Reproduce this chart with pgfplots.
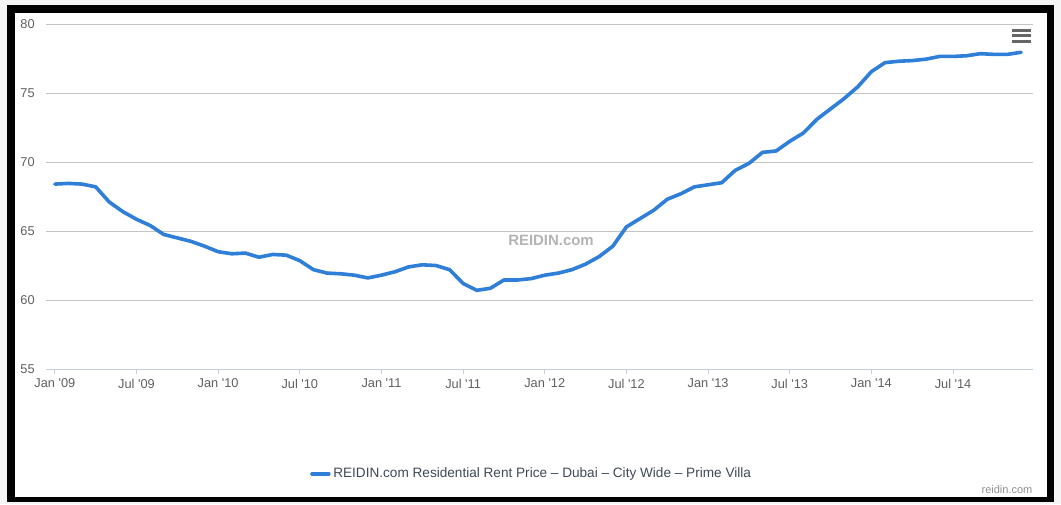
\documentclass[border=0pt]{standalone}
\usepackage{pgfplots}
\pgfplotsset{compat=1.18}
\usepackage{fontspec}
\setmainfont{Liberation Sans}
\definecolor{serie}{HTML}{2F7ED8}
\definecolor{gridc}{HTML}{C4C4C4}
\definecolor{axisc}{HTML}{C0D0E0}
\definecolor{tickc}{HTML}{606060}
\definecolor{legc}{HTML}{3E4A57}
\definecolor{wm}{HTML}{B4B4B4}
\definecolor{credit}{HTML}{909090}
\definecolor{menu}{HTML}{666666}
\begin{document}
\begin{tikzpicture}
\begin{scope}[x=0.75pt,y=-0.75pt]
\fill[gray!8] (0,0) rectangle (1061,504);
\fill[black] (7,5) rectangle (1054,502);
\fill[white] (15,13) rectangle (1047,497);
\coordinate (A) at (46,369);
\node[font=\bfseries\fontsize{11.2pt}{13pt}\selectfont, text=wm] at (551,240) {REIDIN.com};
\node[font=\fontsize{8.25pt}{10pt}\selectfont, text=credit] at (1007,490) {reidin.com};
\foreach \yy in {30,35.5,41} \draw[line width=2.25pt, color=menu] (1012,\yy) -- (1031,\yy);
\end{scope}
\begin{axis}[at={(A)}, anchor=south west, scale only axis,
  width=740pt, height=258.75pt,
  xmin=-0.65, xmax=71.85, ymin=55, ymax=80,
  axis x line*=bottom, axis y line*=left,
  x axis line style={color=axisc, line width=0.75pt},
  y axis line style={draw=none},
  ytick={55,60,65,70,75,80},
  ymajorgrids, grid style={color=gridc, line width=0.75pt},
  ytick style={draw=none},
  xtick={0,6,12,18,24,30,36,42,48,54,60,66},
  xticklabels={Jan \textquotesingle09, Jul \textquotesingle09, Jan \textquotesingle10, Jul \textquotesingle10, Jan \textquotesingle11, Jul \textquotesingle11, Jan \textquotesingle12, Jul \textquotesingle12, Jan \textquotesingle13, Jul \textquotesingle13, Jan \textquotesingle14, Jul \textquotesingle14},
  tick align=outside, major tick length=3.5pt,
  xtick style={color=axisc, line width=0.75pt},
  ticklabel style={font=\fontsize{9.6pt}{11pt}\selectfont, text=tickc},
  /pgf/number format/assume math mode=true,
  yticklabel style={xshift=-1.5pt},
  xticklabel style={yshift=-0.5pt},
  legend style={at={(0.4925,-0.304)}, anchor=center, draw=none, fill=none,
    font=\fontsize{10.2pt}{12pt}\selectfont, text=legc, inner sep=0pt},
  legend image code/.code={\draw[#1, line width=2.6pt] (0pt,0pt) -- (12.75pt,0pt);},
]
\addplot[color=serie, line width=2.7pt, line join=round, line cap=round] coordinates {
(0,68.4) (1,68.45) (2,68.4) (3,68.2) (4,67.1) (5,66.4) (6,65.85) (7,65.4)
(8,64.75) (9,64.5) (10,64.25) (11,63.9) (12,63.5) (13,63.35) (14,63.4) (15,63.1)
(16,63.3) (17,63.25) (18,62.85) (19,62.2) (20,61.95) (21,61.9) (22,61.8) (23,61.6)
(24,61.8) (25,62.05) (26,62.4) (27,62.55) (28,62.5) (29,62.2) (30,61.2) (31,60.7)
(32,60.85) (33,61.45) (34,61.45) (35,61.55) (36,61.8) (37,61.95) (38,62.2) (39,62.6)
(40,63.15) (41,63.9) (42,65.3) (43,65.9) (44,66.5) (45,67.3) (46,67.7) (47,68.2)
(48,68.35) (49,68.5) (50,69.4) (51,69.9) (52,70.7) (53,70.8) (54,71.5) (55,72.1)
(56,73.1) (57,73.85) (58,74.6) (59,75.45) (60,76.55) (61,77.2) (62,77.3) (63,77.35)
(64,77.45) (65,77.65) (66,77.65) (67,77.7) (68,77.85) (69,77.8) (70,77.8) (71,77.95)
};
\addlegendentry{REIDIN.com Residential Rent Price -- Dubai -- City Wide -- Prime Villa}
\end{axis}
\end{tikzpicture}
\end{document}
